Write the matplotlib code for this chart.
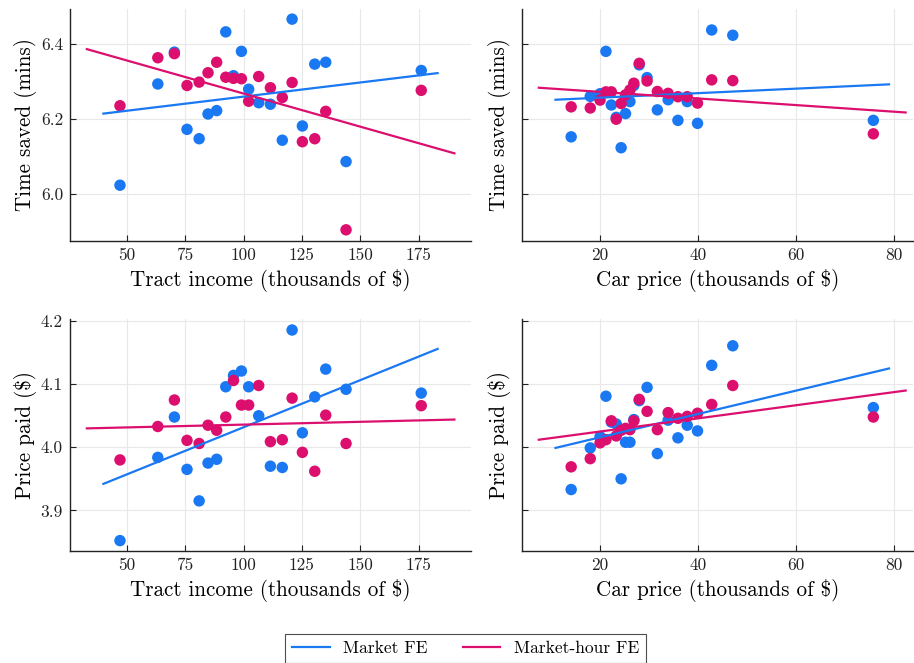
import matplotlib
matplotlib.use("Agg")
import matplotlib.pyplot as plt
from matplotlib.lines import Line2D

plt.rcParams['font.family'] = ['cmr10', 'DejaVu Serif']
plt.rcParams['mathtext.fontset'] = 'cm'
plt.rcParams['axes.formatter.use_mathtext'] = True

BLUE = '#1A78F2'
MAGENTA = '#DC0F6E'

# ---- data ----
tract_income = [47.1, 63.3, 70.4, 75.8, 81.0, 84.8, 88.5, 92.4, 95.7, 99.1,
                102.2, 106.5, 111.5, 116.6, 120.8, 125.2, 130.5, 135.2, 143.9, 176.1]
car_price = [14.1, 18.0, 20.0, 21.2, 22.3, 23.3, 24.3, 25.2, 26.1, 26.9,
             28.0, 29.6, 31.7, 33.9, 35.9, 37.8, 39.9, 42.8, 47.1, 75.8]

time_income_mkt = [6.024, 6.294, 6.379, 6.173, 6.148, 6.214, 6.223, 6.433, 6.316, 6.381,
                   6.280, 6.244, 6.240, 6.144, 6.467, 6.182, 6.347, 6.352, 6.087, 6.330]
time_income_mh = [6.236, 6.364, 6.375, 6.290, 6.299, 6.324, 6.352, 6.312, 6.309, 6.308,
                  6.248, 6.314, 6.284, 6.258, 6.298, 6.140, 6.148, 6.221, 5.905, 6.277]

time_car_mkt = [6.153, 6.261, 6.268, 6.381, 6.238, 6.205, 6.124, 6.215, 6.247, 6.290,
                6.345, 6.311, 6.225, 6.252, 6.197, 6.247, 6.189, 6.438, 6.424, 6.197]
time_car_mh = [6.233, 6.230, 6.251, 6.273, 6.273, 6.200, 6.242, 6.265, 6.278, 6.296,
               6.349, 6.302, 6.274, 6.269, 6.260, 6.260, 6.243, 6.305, 6.303, 6.161]

price_income_mkt = [3.852, 3.984, 4.048, 3.965, 3.915, 3.975, 3.981, 4.096, 4.114, 4.121,
                    4.096, 4.050, 3.970, 3.968, 4.186, 4.023, 4.080, 4.124, 4.092, 4.086]
price_income_mh = [3.980, 4.033, 4.075, 4.011, 4.006, 4.035, 4.027, 4.048, 4.106, 4.067,
                   4.067, 4.098, 4.009, 4.012, 4.078, 3.992, 3.962, 4.051, 4.006, 4.066]

price_car_mkt = [3.933, 3.999, 4.017, 4.081, 4.040, 4.037, 3.950, 4.008, 4.008, 4.044,
                 4.074, 4.095, 3.990, 4.043, 4.015, 4.035, 4.026, 4.130, 4.161, 4.063]
price_car_mh = [3.969, 3.982, 4.007, 4.012, 4.042, 4.018, 4.027, 4.030, 4.028, 4.042,
                4.076, 4.057, 4.028, 4.055, 4.046, 4.049, 4.054, 4.068, 4.098, 4.048]

# fitted line endpoints (x0, x1), (y0, y1)
fit_time_income_mkt = ([40.0, 183.1], [6.215, 6.323])
fit_time_income_mh = ([32.9, 190.3], [6.387, 6.109])
fit_time_car_mkt = ([10.9, 79.0], [6.252, 6.293])
fit_time_car_mh = ([7.5, 82.4], [6.284, 6.218])
fit_price_income_mkt = ([40.0, 183.1], [3.942, 4.156])
fit_price_income_mh = ([32.9, 190.3], [4.030, 4.044])
fit_price_car_mkt = ([10.9, 79.0], [3.999, 4.125])
fit_price_car_mh = ([7.5, 82.4], [4.012, 4.090])

income_ticks = [50, 75, 100, 125, 150, 175]
car_ticks = [20, 40, 60, 80]
time_ticks = [6.0, 6.2, 6.4]
price_ticks = [3.9, 4.0, 4.1, 4.2]

W, H = 914, 663
fig = plt.figure(figsize=(W / 100, H / 100), dpi=100)

def rect(l, r, t, b):
    return [l / W, 1 - b / H, (r - l) / W, (b - t) / H]

axes = {
    'tl': fig.add_axes(rect(70, 471, 9, 240.7)),
    'tr': fig.add_axes(rect(521.7, 913, 9, 240.7)),
    'bl': fig.add_axes(rect(70, 471, 319.3, 550.7)),
    'br': fig.add_axes(rect(521.7, 913, 319.3, 550.7)),
}

panels = [
    ('tl', tract_income, time_income_mkt, time_income_mh, fit_time_income_mkt, fit_time_income_mh,
     (25.7, 197.4), (5.876, 6.494), income_ticks, time_ticks, True,
     'Tract income (thousands of \\$)', 'Time saved (mins)'),
    ('tr', car_price, time_car_mkt, time_car_mh, fit_time_car_mkt, fit_time_car_mh,
     (4.0, 83.9), (5.876, 6.494), car_ticks, time_ticks, False,
     'Car price (thousands of \\$)', 'Time saved (mins)'),
    ('bl', tract_income, price_income_mkt, price_income_mh, fit_price_income_mkt, fit_price_income_mh,
     (25.7, 197.4), (3.836, 4.203), income_ticks, price_ticks, True,
     'Tract income (thousands of \\$)', 'Price paid (\\$)'),
    ('br', car_price, price_car_mkt, price_car_mh, fit_price_car_mkt, fit_price_car_mh,
     (4.0, 83.9), (3.836, 4.203), car_ticks, price_ticks, False,
     'Car price (thousands of \\$)', 'Price paid (\\$)'),
]

for key, x, ym, yh, fm, fh, xl, yl, xt, yt, ylabels, xlab, ylab in panels:
    ax = axes[key]
    ax.scatter(x, ym, s=68, color=BLUE, edgecolors='none', zorder=3)
    ax.scatter(x, yh, s=68, color=MAGENTA, edgecolors='none', zorder=3)
    ax.plot(fm[0], fm[1], color=BLUE, lw=1.6, zorder=4)
    ax.plot(fh[0], fh[1], color=MAGENTA, lw=1.6, zorder=4)
    ax.set_xlim(*xl)
    ax.set_ylim(*yl)
    ax.set_xticks(xt)
    ax.set_yticks(yt)
    if not ylabels:
        ax.set_yticklabels([])
    else:
        ax.set_yticklabels([f'{v:.1f}' for v in yt])
    ax.set_xticklabels([str(v) for v in xt])
    ax.grid(True, color='#e8e8e8', lw=0.8, zorder=0)
    ax.set_axisbelow(True)
    for s in ('top', 'right'):
        ax.spines[s].set_visible(False)
    for s in ('left', 'bottom'):
        ax.spines[s].set_linewidth(1.0)
        ax.spines[s].set_color('#222222')
    ax.tick_params(direction='in', length=4, width=0.8, labelsize=12.5, pad=5, colors='#222222')
    ax.set_xlabel(xlab, fontsize=15.2, labelpad=4)
    ax.set_ylabel(ylab, fontsize=15.2, labelpad=3)

handles = [Line2D([], [], color=BLUE, lw=1.6), Line2D([], [], color=MAGENTA, lw=1.6)]
leg = fig.legend(handles, ['Market FE', 'Market-hour FE'], loc='upper center',
                 bbox_to_anchor=(465.5 / W, 1 - 634 / H), ncol=2, fontsize=12.6, frameon=True,
                 fancybox=False, edgecolor='#222222', handlelength=2.15, handletextpad=0.77,
                 columnspacing=2.0, borderpad=0.38, borderaxespad=0.0)
leg.get_frame().set_linewidth(0.8)

fig.savefig('out.png', dpi=100)
